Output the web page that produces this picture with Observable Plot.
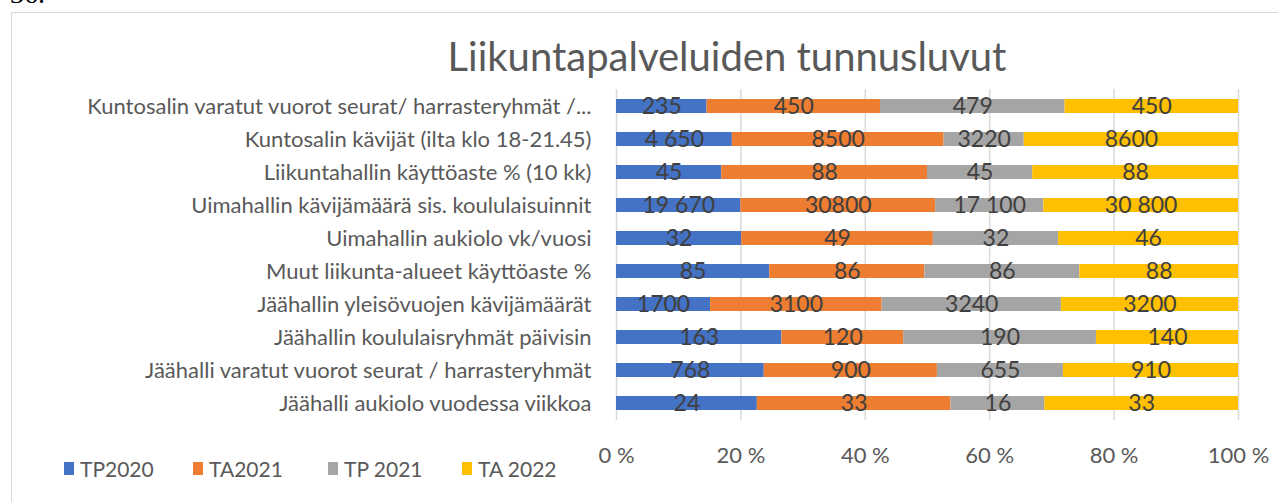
<!DOCTYPE html>
<html>
<head>
<meta charset="utf-8">
<script src="https://cdn.jsdelivr.net/npm/d3@7"></script>
<script src="https://cdn.jsdelivr.net/npm/@observablehq/plot@0.6"></script>
<style>
  html, body { margin: 0; padding: 0; background: #fff; }
  body { width: 1278px; height: 502px; overflow: hidden; position: relative; font-family: Lato, "Open Sans", sans-serif; }
  #num { position: absolute; left: 10px; top: -20px; font-family: "Liberation Serif", serif; font-size: 28px; line-height: 28px; color: #000; }
  #frame { position: absolute; left: 11px; top: 12px; width: 1270px; height: 520px; border: 1.5px solid #d9d9d9; box-sizing: border-box; }
  #chart { position: absolute; left: 0; top: 0; }
  #title { position: absolute; left: 0; top: 34px; width: 1454px; text-align: center; font-size: 40px; line-height: 44px; color: #595959; }
  #legend { position: absolute; left: 0; top: 456px; height: 24px; }
  .item { position: absolute; top: 0; display: flex; align-items: center; height: 24px; font-size: 21px; color: #595959; white-space: nowrap; }
  .sw { width: 10px; height: 13px; margin-right: 6px; }
</style>
</head>
<body>
<div id="num">36.</div>
<div id="frame"></div>
<div id="chart"></div>
<div id="title">Liikuntapalveluiden tunnusluvut</div>
<div id="legend"></div>
<script>
const categories = [
  "Kuntosalin varatut vuorot seurat/ harrasteryhmät /...",
  "Kuntosalin kävijät (ilta klo 18-21.45)",
  "Liikuntahallin käyttöaste % (10 kk)",
  "Uimahallin kävijämäärä sis. koululaisuinnit",
  "Uimahallin aukiolo vk/vuosi",
  "Muut liikunta-alueet käyttöaste %",
  "Jäähallin yleisövuojen kävijämäärät",
  "Jäähallin koululaisryhmät päivisin",
  "Jäähalli varatut vuorot seurat / harrasteryhmät",
  "Jäähalli aukiolo vuodessa viikkoa"
];
const series = ["TP2020", "TA2021", "TP 2021", "TA 2022"];
const colors = ["#4472C4", "#ED7D31", "#A5A5A5", "#FFC000"];

const tp2020 = [235, 4650, 45, 19670, 32, 85, 1700, 163, 768, 24];
const ta2021 = [450, 8500, 88, 30800, 49, 86, 3100, 120, 900, 33];
const tp2021 = [479, 3220, 45, 17100, 32, 86, 3240, 190, 655, 16];
const ta2022 = [450, 8600, 88, 30800, 46, 88, 3200, 140, 910, 33];

const tp2020Labels = ["235", "4 650", "45", "19 670", "32", "85", "1700", "163", "768", "24"];
const ta2021Labels = ["450", "8500", "88", "30800", "49", "86", "3100", "120", "900", "33"];
const tp2021Labels = ["479", "3220", "45", "17 100", "32", "86", "3240", "190", "655", "16"];
const ta2022Labels = ["450", "8600", "88", "30 800", "46", "88", "3200", "140", "910", "33"];

const xTicks = [0, 0.2, 0.4, 0.6, 0.8, 1];
const xTickLabels = ["0 %", "20 %", "40 %", "60 %", "80 %", "100 %"];

const seriesValues = [tp2020, ta2021, tp2021, ta2022];
const seriesLabels = [tp2020Labels, ta2021Labels, tp2021Labels, ta2022Labels];

const data = [];
categories.forEach((c, i) => {
  series.forEach((s, j) => {
    data.push({cat: c, series: s, value: seriesValues[j][i], label: seriesLabels[j][i]});
  });
});

const chart = Plot.plot({
  width: 1278,
  height: 502,
  marginLeft: 616,
  marginRight: 40,
  marginTop: 89,
  marginBottom: 82,
  style: {background: "transparent", fontFamily: "Lato, 'Open Sans', sans-serif", overflow: "visible"},
  x: {domain: [0, 1], ticks: xTicks, label: null},
  y: {domain: categories, paddingInner: 0.58, paddingOuter: 0.29, align: 0.5, label: null},
  color: {domain: series, range: colors},
  marks: [
    Plot.gridX(xTicks, {stroke: "#d9d9d9", strokeOpacity: 1, strokeWidth: 1.5}),
    Plot.barX(data, Plot.stackX({x: "value", y: "cat", fill: "series", offset: "normalize"})),
    Plot.text(data, Plot.stackX({x: "value", y: "cat", z: "series", text: "label", offset: "normalize", fill: "#404040", fontSize: 23})),
    Plot.axisX({ticks: xTicks, tickFormat: (d, i) => xTickLabels[i], tickSize: 0, tickPadding: 27, fontSize: 22, fill: "#595959"}),
    Plot.axisY({tickSize: 0, tickPadding: 25, fontSize: 22, fill: "#595959"})
  ]
});
document.getElementById("chart").appendChild(chart);

const legendLefts = [64, 193, 328, 462];
const legend = document.getElementById("legend");
series.forEach((s, j) => {
  const item = document.createElement("div");
  item.className = "item";
  item.style.left = legendLefts[j] + "px";
  const sw = document.createElement("div");
  sw.className = "sw";
  sw.style.background = colors[j];
  const t = document.createElement("span");
  t.textContent = s;
  item.appendChild(sw);
  item.appendChild(t);
  legend.appendChild(item);
});
</script>
</body>
</html>
